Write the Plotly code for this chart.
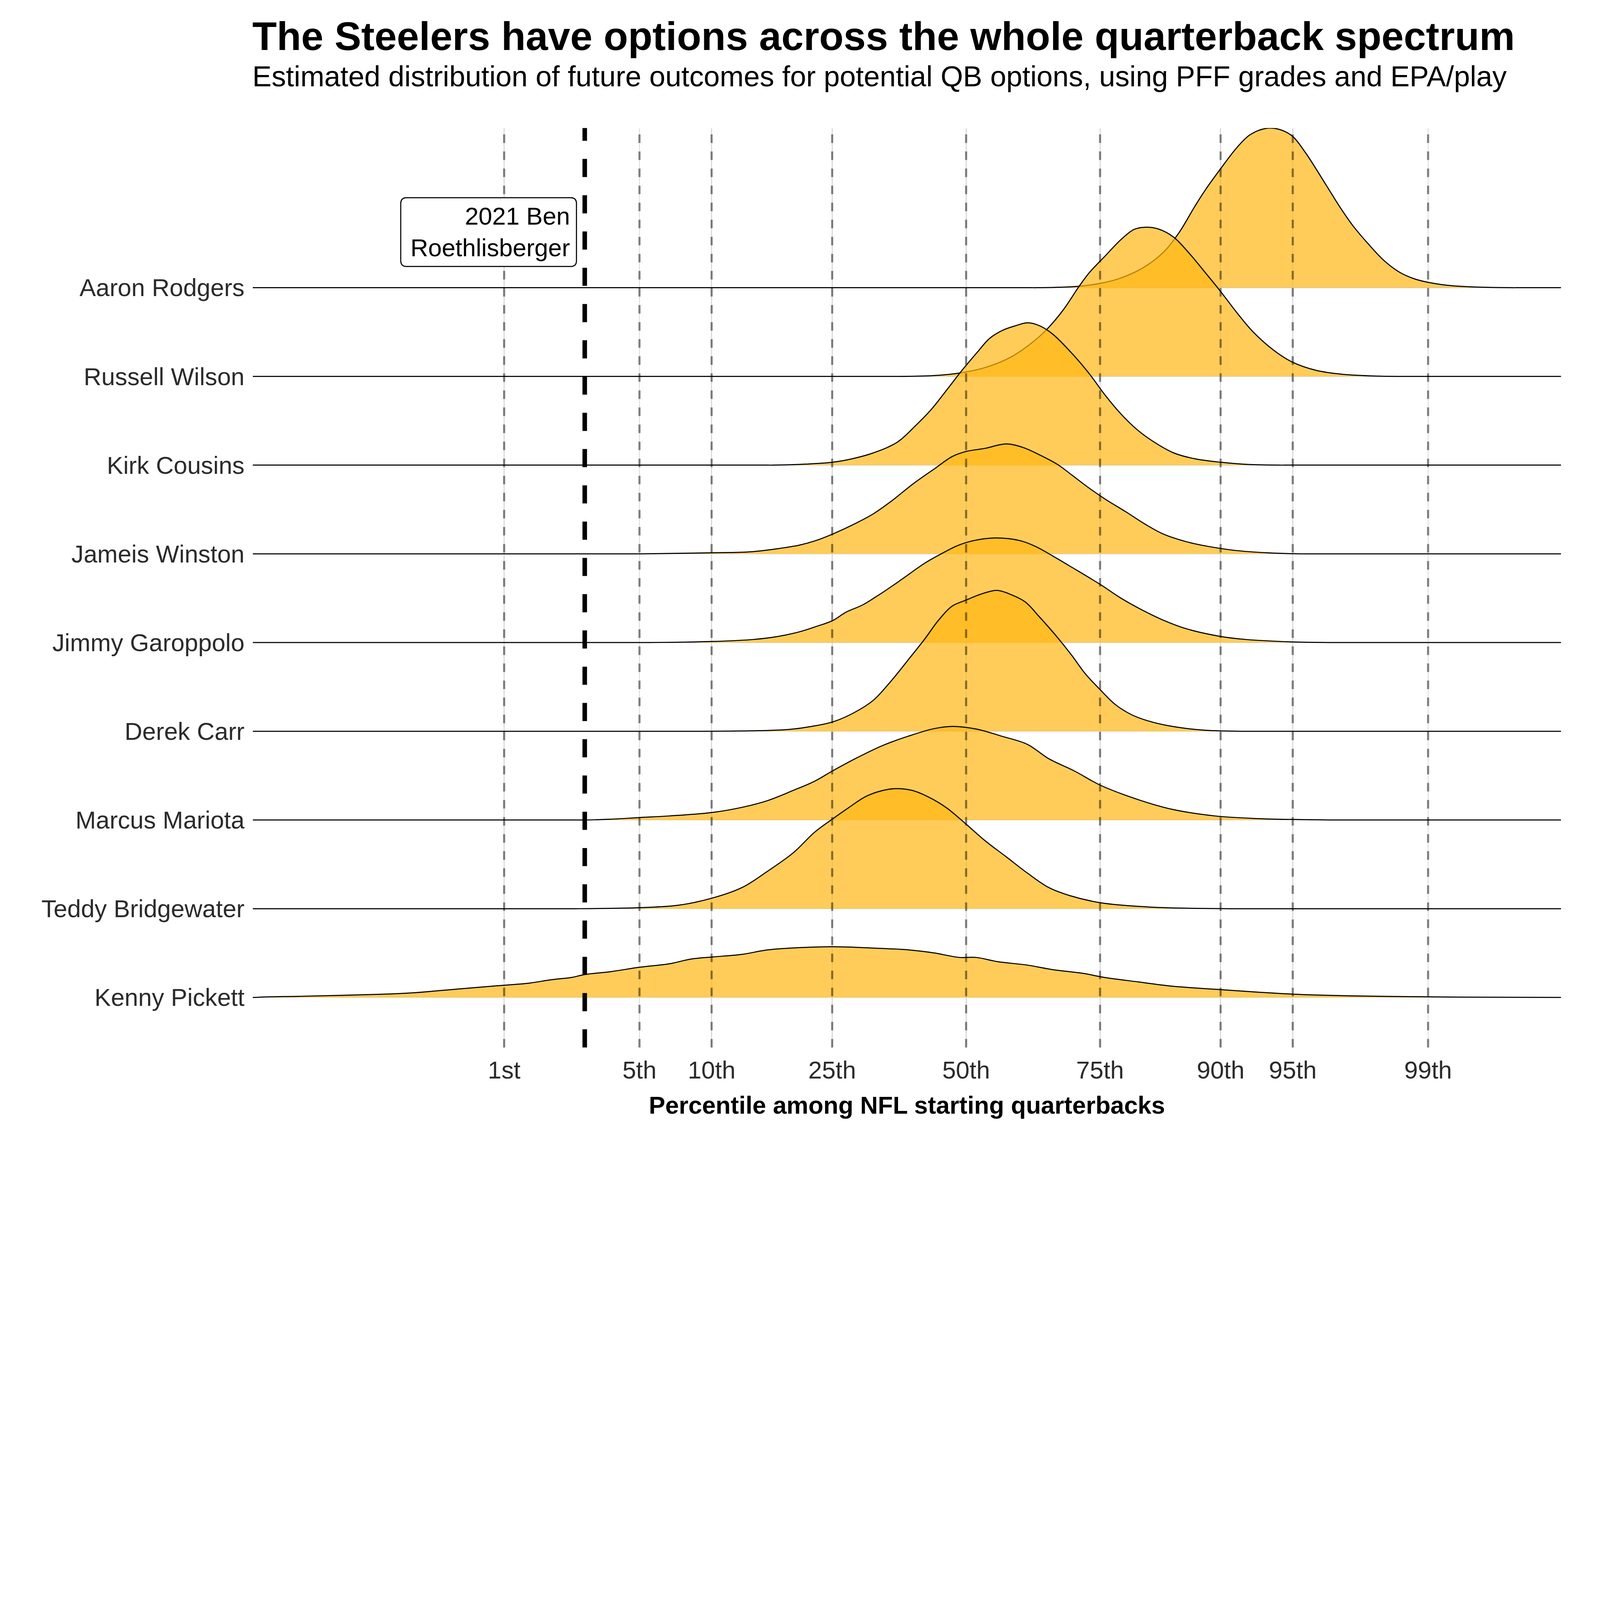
from statistics import NormalDist
import plotly.graph_objects as go

# ---------------- data ----------------
PLAYERS = ["Aaron Rodgers", "Russell Wilson", "Kirk Cousins", "Jameis Winston",
           "Jimmy Garoppolo", "Derek Carr", "Marcus Mariota", "Teddy Bridgewater",
           "Kenny Pickett"]

TICK_PCTS = [1, 5, 10, 25, 50, 75, 90, 95, 99]
TICK_LABELS = ["1st", "5th", "10th", "25th", "50th", "75th", "90th", "95th", "99th"]
BEN_PCT = 2.74  # 2021 Ben Roethlisberger percentile

# curve positions on the normal-quantile (z) scale and ridge heights (in row units)
AARON_Z = [0.355, 0.462, 0.568, 0.674, 0.767, 0.886, 0.992, 1.072, 1.151, 1.204, 1.281, 1.363,
           1.430, 1.509, 1.576, 1.642, 1.708, 1.814, 1.881, 1.947, 2.027, 2.106, 2.186, 2.252,
           2.318, 2.424, 2.557, 2.743]
AARON_H = [0, 0.005, 0.016, 0.048, 0.10, 0.218, 0.396, 0.62, 0.914, 1.10, 1.339, 1.578,
           1.724, 1.795, 1.785, 1.71, 1.525, 1.153, 0.914, 0.701, 0.489, 0.303, 0.17, 0.104,
           0.064, 0.027, 0.008, 0]

RUSSELL_Z = [-0.361, -0.175, -0.042, 0.09, 0.223, 0.329, 0.408, 0.488, 0.568, 0.621, 0.700,
             0.780, 0.846, 0.899, 0.966, 1.045, 1.125, 1.204, 1.281, 1.363, 1.443, 1.549,
             1.642, 1.761, 1.894, 2.08, 2.212]
RUSSELL_H = [0, 0.008, 0.035, 0.096, 0.215, 0.375, 0.534, 0.746, 1.012, 1.171, 1.357,
             1.543, 1.657, 1.681, 1.663, 1.57, 1.384, 1.171, 0.959, 0.72, 0.507, 0.295,
             0.162, 0.069, 0.024, 0.003, 0]

KIRK_Z = [-0.971, -0.812, -0.674, -0.573, -0.467, -0.347, -0.255, -0.175, -0.095, -0.016,
          0.064, 0.117, 0.183, 0.25, 0.310, 0.369, 0.435, 0.541, 0.621, 0.700, 0.780, 0.859,
          0.939, 1.045, 1.151, 1.284, 1.416, 1.576]
KIRK_H = [0, 0.011, 0.032, 0.072, 0.138, 0.258, 0.444, 0.629, 0.855, 1.081, 1.293, 1.426,
          1.519, 1.572, 1.604, 1.572, 1.479, 1.24, 1.028, 0.789, 0.576, 0.404, 0.271, 0.138,
          0.072, 0.032, 0.008, 0]

JAMEIS_Z = [-1.633, -1.279, -1.085, -0.948, -0.838, -0.756, -0.671, -0.564, -0.468, -0.373,
            -0.263, -0.153, -0.071, 0, 0.093, 0.203, 0.285, 0.367, 0.463, 0.532, 0.614, 0.696,
            0.805, 0.901, 0.997, 1.107, 1.216, 1.353, 1.518, 1.682]
JAMEIS_H = [0, 0.012, 0.023, 0.058, 0.099, 0.15, 0.224, 0.335, 0.45, 0.60, 0.796, 0.969,
            1.096, 1.154, 1.188, 1.239, 1.20, 1.119, 1.004, 0.889, 0.75, 0.623, 0.473, 0.335,
            0.219, 0.138, 0.085, 0.039, 0.012, 0]

JIMMY_Z = [-1.633, -1.279, -1.071, -0.948, -0.838, -0.756, -0.671, -0.605, -0.523, -0.455,
           -0.40, -0.318, -0.208, -0.126, -0.044, 0.038, 0.148, 0.271, 0.353, 0.436, 0.532,
           0.677, 0.778, 0.888, 0.984, 1.107, 1.282, 1.408, 1.647, 1.874]
JIMMY_H = [0, 0.012, 0.035, 0.069, 0.122, 0.18, 0.249, 0.342, 0.422, 0.515, 0.595, 0.722,
           0.895, 0.999, 1.092, 1.149, 1.179, 1.149, 1.08, 0.976, 0.849, 0.653, 0.503, 0.365,
           0.261, 0.157, 0.069, 0.035, 0.007, 0]

DEREK_Z = [-1.359, -1.085, -0.893, -0.784, -0.671, -0.564, -0.468, -0.373, -0.29, -0.208,
           -0.14, -0.071, 0, 0.079, 0.156, 0.23, 0.299, 0.367, 0.449, 0.532, 0.60, 0.677,
           0.751, 0.833, 0.915, 1.025, 1.189, 1.381]
DEREK_H = [0, 0.005, 0.021, 0.053, 0.106, 0.21, 0.348, 0.579, 0.81, 1.041, 1.249, 1.41,
           1.479, 1.549, 1.588, 1.537, 1.456, 1.295, 1.087, 0.856, 0.649, 0.464, 0.302,
           0.187, 0.118, 0.06, 0.014, 0]

MARCUS_Z = [-1.921, -1.792, -1.642, -1.492, -1.278, -1.128, -0.999, -0.87, -0.763, -0.673,
            -0.549, -0.42, -0.292, -0.163, -0.069, 0.051, 0.18, 0.309, 0.416, 0.545, 0.677,
            0.866, 1.038, 1.252, 1.467, 1.767, 1.981]
MARCUS_H = [0, 0.009, 0.028, 0.046, 0.085, 0.143, 0.219, 0.334, 0.437, 0.553, 0.702, 0.84,
            0.944, 1.029, 1.055, 1.025, 0.944, 0.852, 0.691, 0.553, 0.391, 0.23, 0.12, 0.046,
            0.016, 0.002, 0]

TEDDY_Z = [-1.964, -1.642, -1.449, -1.278, -1.128, -0.999, -0.87, -0.763, -0.673, -0.592,
           -0.506, -0.42, -0.352, -0.27, -0.184, -0.099, 0, 0.094, 0.202, 0.309, 0.416,
           0.523, 0.677, 0.909, 1.124, 1.338]
TEDDY_H = [0, 0.012, 0.039, 0.12, 0.239, 0.424, 0.631, 0.862, 1.011, 1.138, 1.264, 1.333,
           1.354, 1.333, 1.253, 1.138, 0.953, 0.769, 0.585, 0.401, 0.239, 0.147, 0.067,
           0.021, 0.005, 0]

KENNY_Z = [-3.55, -3.336, -2.95, -2.778, -2.564, -2.324, -2.2, -2.093, -1.985, -1.921,
           -1.792, -1.642, -1.492, -1.385, -1.278, -1.128, -0.999, -0.849, -0.673, -0.506,
           -0.292, -0.163, -0.034, 0.051, 0.159, 0.309, 0.437, 0.587, 0.695, 0.866, 1.038,
           1.286, 1.467, 1.647, 1.938, 2.329, 2.624, 2.99]
KENNY_H = [0.004, 0.014, 0.035, 0.053, 0.094, 0.138, 0.161, 0.198, 0.226, 0.258, 0.29,
           0.341, 0.38, 0.433, 0.456, 0.486, 0.536, 0.56, 0.571, 0.56, 0.536, 0.502, 0.451,
           0.451, 0.403, 0.364, 0.313, 0.272, 0.226, 0.175, 0.127, 0.087, 0.06, 0.037,
           0.018, 0.007, 0.002, 0]

CURVES = {
    "Aaron Rodgers": (AARON_Z, AARON_H),
    "Russell Wilson": (RUSSELL_Z, RUSSELL_H),
    "Kirk Cousins": (KIRK_Z, KIRK_H),
    "Jameis Winston": (JAMEIS_Z, JAMEIS_H),
    "Jimmy Garoppolo": (JIMMY_Z, JIMMY_H),
    "Derek Carr": (DEREK_Z, DEREK_H),
    "Marcus Mariota": (MARCUS_Z, MARCUS_H),
    "Teddy Bridgewater": (TEDDY_Z, TEDDY_H),
    "Kenny Pickett": (KENNY_Z, KENNY_H),
}

# ---------------- styling ----------------
W, H = 6000, 4200
X_RANGE = [-3.592, 2.996]
Y_RANGE = [-0.564, 9.80]
FILL = "rgba(255,182,18,0.7)"
FONT = "Liberation Sans, Arial, Helvetica, sans-serif"
PAD = 0.03  # flat lead-in so the spline stays on the baseline
LABEL_Y = 8.627  # vertical centre of the Ben label (row units)

nd = NormalDist()
tick_z = [nd.inv_cdf(p / 100) for p in TICK_PCTS]
ben_z = nd.inv_cdf(BEN_PCT / 100)

fig = go.Figure()
n = len(PLAYERS)
for i, name in enumerate(PLAYERS):
    base = n - 1 - i
    zs, hs = list(CURVES[name][0]), list(CURVES[name][1])
    xs, ys = [X_RANGE[0]], [base]
    if zs[0] - PAD > X_RANGE[0]:
        xs.append(zs[0] - PAD); ys.append(base)
    xs += zs
    ys += [base + h for h in hs]
    if zs[-1] + PAD < X_RANGE[1]:
        xs.append(zs[-1] + PAD); ys.append(base)
    xs.append(X_RANGE[1]); ys.append(base)
    fig.add_trace(go.Scatter(x=[X_RANGE[0], X_RANGE[1]], y=[base, base], mode="lines",
                             line=dict(width=0, color="rgba(0,0,0,0)"),
                             hoverinfo="skip", showlegend=False))
    fig.add_trace(go.Scatter(x=xs, y=ys, mode="lines", fill="tonexty", fillcolor=FILL,
                             line=dict(color="black", width=4, shape="spline", smoothing=1.0),
                             name=name, hoverinfo="skip", showlegend=False))

shapes = []
for z in tick_z:
    shapes.append(dict(type="line", xref="x", yref="paper", x0=z, x1=z, y0=0, y1=1,
                       line=dict(color="rgba(0,0,0,0.46)", width=8, dash="32px,32px"),
                       layer="above"))
shapes.append(dict(type="line", xref="x", yref="paper", x0=ben_z, x1=ben_z, y0=0, y1=1,
                   line=dict(color="black", width=17, dash="68px,68px"), layer="above"))

# rounded label box (pixel offsets from the Ben line / label centre)
bx0, bx1, by, r = -690, -31, 129, 22
box_path = (f"M {bx0 + r},{by} L {bx1 - r},{by} Q {bx1},{by} {bx1},{by - r} "
            f"L {bx1},{-by + r} Q {bx1},{-by} {bx1 - r},{-by} "
            f"L {bx0 + r},{-by} Q {bx0},{-by} {bx0},{-by + r} "
            f"L {bx0},{by - r} Q {bx0},{by} {bx0 + r},{by} Z")
shapes.append(dict(type="path", xref="x", yref="y", xsizemode="pixel", ysizemode="pixel",
                   xanchor=ben_z, yanchor=LABEL_Y, path=box_path, fillcolor="white",
                   line=dict(color="black", width=4), layer="above"))

annotations = [
    dict(text="<b>The Steelers have options across the whole quarterback spectrum</b>",
         xref="paper", yref="paper", x=0, y=1.1001, xanchor="left", yanchor="middle",
         showarrow=False, xshift=-4, font=dict(family=FONT, size=150, color="black")),
    dict(text="Estimated distribution of future outcomes for potential QB options, using PFF grades and EPA/play",
         xref="paper", yref="paper", x=0, y=1.0560, xanchor="left", yanchor="middle",
         showarrow=False, xshift=-4, font=dict(family=FONT, size=108, color="black")),
    dict(text="2021 Ben<br>Roethlisberger", xref="x", yref="y", x=ben_z, y=LABEL_Y,
         xanchor="right", yanchor="middle", xshift=-54, align="right", showarrow=False,
         font=dict(family=FONT, size=92, color="black")),
]

fig.update_layout(
    width=W, height=H,
    margin=dict(l=948, r=146, t=480, b=272),
    paper_bgcolor="white", plot_bgcolor="white",
    font=dict(family=FONT, color="#2b2b2b"),
    shapes=shapes, annotations=annotations, showlegend=False,
    xaxis=dict(range=X_RANGE, tickvals=tick_z, ticktext=TICK_LABELS, showgrid=True,
               gridcolor="#dadada", gridwidth=4, zeroline=False, showline=False, ticks="",
               tickfont=dict(family=FONT, size=92, color="#2b2b2b"), ticklabelstandoff=24,
               automargin=False,
               title=dict(text="<b>Percentile among NFL starting quarterbacks</b>",
                          font=dict(family=FONT, size=92, color="black"), standoff=48)),
    yaxis=dict(range=Y_RANGE, tickvals=list(range(n)), ticktext=PLAYERS[::-1], showgrid=True,
               gridcolor="#dadada", gridwidth=3, zeroline=False, showline=False, ticks="",
               tickfont=dict(family=FONT, size=92, color="#2b2b2b"), ticklabelstandoff=30,
               automargin=False),
)

# the browser window can be smaller than the figure: scale the whole figure to fit it
FIT_JS = """
(function () {
  var gd = document.getElementById('{plot_id}');
  var s = Math.min(1, window.innerWidth / %d, window.innerHeight / %d);
  document.documentElement.style.margin = '0';
  document.body.style.margin = '0';
  document.body.style.overflow = 'hidden';
  gd.style.transformOrigin = '0 0';
  gd.style.transform = 'scale(' + s + ')';
})();
""" % (W, H)

fig.write_html("out.html", post_script=FIT_JS, config={"displayModeBar": False})
